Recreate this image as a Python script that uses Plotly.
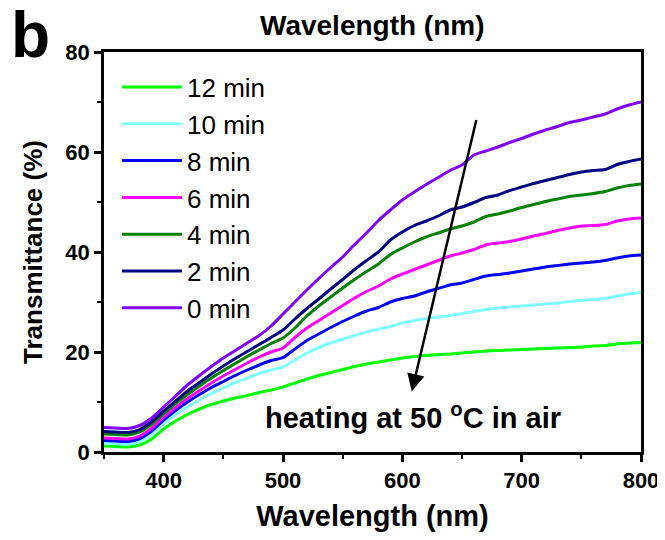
import plotly.graph_objects as go

wavelength = [350, 360, 370, 380, 390, 400, 410, 420, 430, 440, 450, 460, 470, 480, 490,
              500, 510, 520, 530, 540, 550, 560, 570, 580, 590, 600, 610, 620, 630, 640,
              650, 660, 670, 680, 690, 700, 710, 720, 730, 740, 750, 760, 770, 780, 790, 800]

t_0min = [4.9, 4.8, 4.7, 5.3, 6.8, 9.0, 11.2, 13.4, 15.3, 17.1, 18.8, 20.3, 21.8, 23.3, 25.2,
          27.6, 30.0, 32.4, 34.7, 36.9, 39.0, 41.5, 43.8, 46.3, 48.4, 50.4, 52.0, 53.5, 54.9, 56.3,
          57.4, 59.4, 60.2, 61.0, 61.9, 62.7, 63.6, 64.4, 65.1, 65.9, 66.4, 67.0, 67.6, 68.6, 69.4, 70.0]
t_2min = [4.1, 4.0, 3.9, 4.5, 6.1, 8.2, 10.2, 12.2, 13.9, 15.6, 17.2, 18.7, 20.1, 21.5, 22.9,
          24.4, 26.6, 28.7, 30.6, 32.6, 34.5, 36.5, 38.3, 40.0, 42.4, 44.0, 45.3, 46.2, 47.2, 48.4,
          49.0, 49.9, 50.9, 51.4, 52.3, 53.0, 53.7, 54.3, 54.9, 55.5, 56.0, 56.3, 56.5, 57.5, 58.1, 58.6]
t_4min = [3.6, 3.5, 3.4, 4.0, 5.6, 7.7, 9.7, 11.5, 13.2, 14.8, 16.3, 17.7, 19.1, 20.4, 21.7,
          22.8, 24.8, 27.2, 29.2, 31.0, 32.8, 34.5, 36.1, 37.6, 39.5, 40.8, 42.0, 43.0, 43.8, 44.6,
          45.2, 46.0, 47.1, 47.6, 48.2, 48.9, 49.5, 50.1, 50.6, 51.1, 51.4, 51.7, 52.1, 52.8, 53.3, 53.6]
t_6min = [2.8, 2.7, 2.6, 3.2, 4.8, 7.0, 8.9, 10.7, 12.3, 13.8, 15.2, 16.5, 17.8, 19.0, 20.0,
          20.8, 22.9, 24.8, 26.3, 27.8, 29.3, 30.8, 32.1, 33.2, 34.6, 35.6, 36.5, 37.4, 38.3, 39.2,
          39.8, 40.5, 41.4, 41.8, 42.1, 42.6, 43.2, 43.7, 44.3, 44.8, 45.2, 45.3, 45.5, 46.2, 46.6, 46.8]
t_8min = [2.3, 2.2, 2.1, 2.7, 4.2, 6.4, 8.3, 10.0, 11.5, 12.9, 14.1, 15.3, 16.4, 17.4, 18.3,
          18.9, 20.6, 22.3, 23.6, 24.9, 26.1, 27.2, 28.2, 28.9, 30.0, 30.7, 31.2, 32.0, 32.7, 33.4,
          33.8, 34.5, 35.2, 35.5, 35.8, 36.2, 36.6, 37.0, 37.3, 37.6, 37.8, 38.0, 38.3, 38.8, 39.2, 39.4]
t_10min = [1.8, 1.7, 1.6, 2.2, 3.6, 5.7, 7.5, 9.0, 10.4, 11.7, 12.8, 13.9, 14.8, 15.7, 16.4,
           17.0, 18.4, 19.8, 20.9, 21.8, 22.6, 23.3, 24.0, 24.6, 25.1, 25.8, 26.3, 26.7, 27.0, 27.3,
           27.7, 28.1, 28.5, 28.8, 29.0, 29.2, 29.4, 29.6, 29.8, 30.1, 30.3, 30.5, 30.7, 31.2, 31.6, 31.9]
t_12min = [1.2, 1.1, 1.0, 1.4, 2.6, 4.6, 6.2, 7.5, 8.6, 9.5, 10.2, 10.8, 11.3, 11.9, 12.4,
           13.0, 13.8, 14.6, 15.3, 15.9, 16.5, 17.1, 17.6, 18.0, 18.4, 18.8, 19.1, 19.3, 19.5, 19.6,
           19.8, 20.0, 20.2, 20.3, 20.4, 20.5, 20.6, 20.7, 20.8, 20.9, 21.0, 21.2, 21.3, 21.6, 21.8, 21.9]

series_labels = ["12 min", "10 min", "8 min", "6 min", "4 min", "2 min", "0 min"]
series_values = [t_12min, t_10min, t_8min, t_6min, t_4min, t_2min, t_0min]
series_colors = ["#00ff00", "#80ffff", "#0000ff", "#ff00ff", "#008000", "#000080", "#8000ff"]

x_ticks = [400, 500, 600, 700, 800]
y_ticks = [0, 20, 40, 60, 80]

FONT = "Liberation Sans, Arial, sans-serif"

fig = go.Figure()
for label, vals, col in zip(series_labels, series_values, series_colors):
    fig.add_trace(go.Scatter(
        x=wavelength, y=vals, mode="lines", name=label,
        line=dict(color=col, width=3, shape="spline", smoothing=0.6),
    ))

fig.add_annotation(
    x=607.9, y=12.1, ax=662.3, ay=66.7, xref="x", yref="y", axref="x", ayref="y",
    showarrow=True, arrowhead=2, arrowsize=1.4, arrowwidth=2.5, arrowcolor="black", text="",
)
fig.add_annotation(
    x=609, y=7.3, xref="x", yref="y", showarrow=False,
    text="<b>heating at 50 <sup>o</sup>C in air</b>",
    font=dict(family=FONT, size=29, color="black"),
)
fig.add_annotation(
    x=0.5, y=1, xref="paper", yref="paper", yanchor="top", yshift=44, showarrow=False,
    text="<b>Wavelength (nm)</b>", font=dict(family=FONT, size=28, color="black"),
)
fig.add_annotation(
    x=0, y=1, xref="paper", yref="paper", xanchor="center", yanchor="middle",
    xshift=-74, yshift=17, showarrow=False,
    text="<b>b</b>", font=dict(family=FONT, size=64, color="black"),
)

axis_common = dict(
    showline=True, linecolor="black", linewidth=2.5, mirror=True,
    ticks="outside", ticklen=7, tickwidth=2.5, tickcolor="black",
    showgrid=False, zeroline=False, automargin=False,
    tickfont=dict(family=FONT, size=22, color="black"),
)
fig.update_xaxes(
    range=[350, 800], tickvals=x_ticks, ticktext=[f"<b>{v}</b>" for v in x_ticks],
    minor=dict(ticks="outside", ticklen=4, tickwidth=2, tickcolor="black", dtick=50, tick0=350),
    title=dict(text="<b>Wavelength (nm)</b>", font=dict(family=FONT, size=29, color="black"), standoff=22),
    **axis_common,
)
fig.update_yaxes(
    range=[0, 80], tickvals=y_ticks, ticktext=[f"<b>{v}</b>" for v in y_ticks],
    minor=dict(ticks="outside", ticklen=4, tickwidth=2, tickcolor="black", dtick=10, tick0=0),
    title=dict(text="<b>Transmittance (%)</b>", font=dict(family=FONT, size=26, color="black"), standoff=16),
    **axis_common,
)
fig.update_layout(
    width=657, height=524,
    margin=dict(l=96, r=24, t=44, b=80),
    plot_bgcolor="white", paper_bgcolor="white",
    legend=dict(
        x=0.0242, y=0.971, xanchor="left", yanchor="top",
        bgcolor="rgba(0,0,0,0)", font=dict(family=FONT, size=26, color="black"),
        traceorder="normal", itemwidth=60,
    ),
)
fig.write_html("out.html")
